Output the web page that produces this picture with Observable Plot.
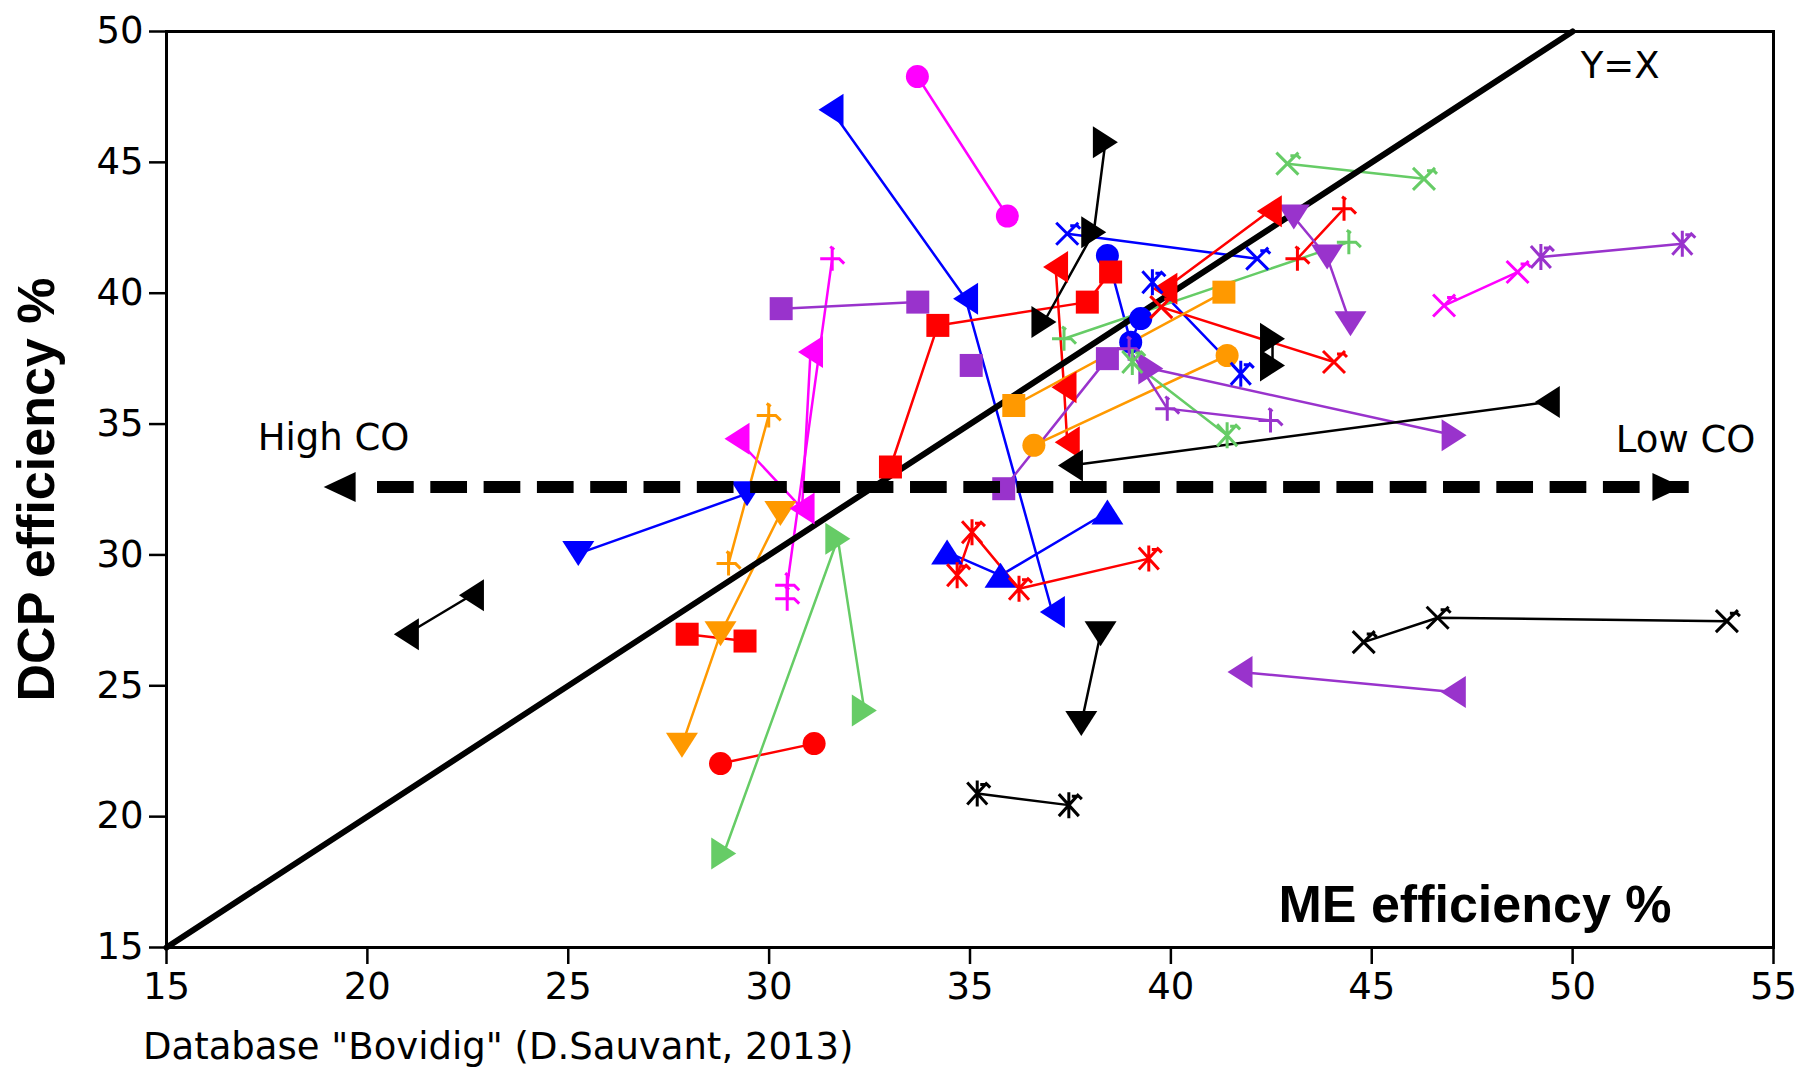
<!DOCTYPE html>
<html>
<head>
<meta charset="utf-8">
<script src="https://cdn.jsdelivr.net/npm/d3@7"></script>
<script src="https://cdn.jsdelivr.net/npm/@observablehq/plot@0.6"></script>
<style>
  html, body { margin: 0; padding: 0; background: #fff; }
  #chart svg { display: block; }
  #caption { font-family: "DejaVu Sans", sans-serif; font-size: 37px; line-height: 43px; margin-left: 143px; color: #000; white-space: nowrap; }
</style>
</head>
<body>
<div id="chart"></div>
<div id="caption"></div>
<script>
// ---- axis ticks ----
const xTicks = [15, 20, 25, 30, 35, 40, 45, 50, 55];
const yTicks = [15, 20, 25, 30, 35, 40, 45, 50];

// ---- texts ----
const yLabel = "DCP efficiency %";
const xLabel = "ME efficiency %";
const captionText = 'Database "Bovidig" (D.Sauvant, 2013)';
const diagonalLabel = "Y=X";
const highLabel = "High CO";
const lowLabel = "Low CO";

// ---- reference lines ----
const diagonal = [15, 50];            // Y = X from 15 to 50
const coLine = [20.24, 52.89];        // dashed CO arrow, x extent
const coY = 32.6;                     // dashed CO arrow, y level
const coHeads = [19.31, 52.36];       // arrow heads (left, right)

// ---- series (x = ME efficiency %, y = DCP efficiency %) ----
// blue
const blueLeftTri  = [[31.54, 47.01], [34.89, 39.79], [37.05, 27.82]];
const blueUpTri    = [[34.43, 30.11], [35.76, 29.22], [38.42, 31.64]];
const blueDownTri  = [[25.25, 30.05], [29.45, 32.34]];
const blueCircle   = [[38.42, 41.44], [39.00, 38.13], [39.25, 39.03]];
const blueTimes    = [[37.42, 42.27], [42.15, 41.32]];
const blueAsterisk = [[39.54, 40.42], [41.74, 36.92]];
// magenta
const magentaCircle  = [[33.69, 48.28], [35.93, 42.95]];
const magentaLeftTri = [[29.20, 34.44], [30.82, 31.77], [31.03, 37.75]];
const magentaPlus    = [[31.57, 41.32], [30.45, 28.84], [30.45, 28.33]];
const magentaTimes   = [[46.80, 39.53], [48.63, 40.81]];
// red
const redSquareA   = [[27.96, 26.97], [29.40, 26.71]];
const redSquareB   = [[33.02, 33.36], [34.20, 38.77], [37.92, 39.66], [38.50, 40.81]];
const redLeftTriA  = [[37.13, 41.00], [37.34, 36.41], [37.42, 34.31]];
const redLeftTriB  = [[39.85, 40.17], [42.45, 43.13]];
const redPlus      = [[43.15, 41.32], [44.31, 43.23]];
const redTimes     = [[39.76, 39.47], [44.06, 37.37]];
const redAsterisk  = [[34.68, 29.22], [35.05, 30.87], [36.22, 28.71], [39.45, 29.86]];
const redCircle    = [[28.79, 22.03], [31.12, 22.79]];
// orange
const orangeSquare  = [[36.09, 35.71], [41.32, 40.04]];
const orangeCircle  = [[36.59, 34.19], [41.40, 37.62]];
const orangePlus    = [[29.99, 35.33], [28.99, 29.67]];
const orangeDownTri = [[30.28, 31.58], [28.79, 26.99], [27.83, 22.73]];
// green
const greenTimes    = [[42.90, 44.95], [46.30, 44.37]];
const greenPlus     = [[37.34, 38.26], [44.43, 41.95]];
const greenAsterisk = [[39.04, 37.37], [41.40, 34.57]];
const greenRightTri = [[28.87, 18.59], [31.71, 30.62], [32.37, 24.06]];
// purple
const purpleSquareA  = [[30.30, 39.41], [33.70, 39.66]];
const purpleSquareB  = [[35.03, 37.24]];
const purpleSquareC  = [[35.84, 32.53], [38.42, 37.50]];
const purplePlus     = [[38.96, 37.88], [39.91, 35.59], [42.48, 35.14]];
const purpleRightTri = [[39.50, 37.12], [47.05, 34.57]];
const purpleDownTri  = [[43.06, 42.91], [43.89, 41.38], [44.47, 38.83]];
const purpleAsterisk = [[49.21, 41.38], [52.73, 41.89]];
const purpleLeftTri  = [[41.72, 25.53], [47.03, 24.76]];
// black
const blackRightTriA = [[38.37, 45.77], [38.08, 42.33], [36.84, 38.90]];
const blackRightTriB = [[42.53, 38.26], [42.53, 37.24]];
const blackLeftTriA  = [[49.37, 35.84], [37.50, 33.42]];
const blackLeftTriB  = [[20.97, 26.97], [22.59, 28.46]];
const blackDownTri   = [[38.25, 26.99], [37.77, 23.56]];
const blackAsterisk  = [[35.18, 20.88], [37.46, 20.44]];
const blackTimes     = [[44.80, 26.67], [46.64, 27.60], [53.84, 27.47]];

// ---- styles ----
const C = {blue: "#0000ff", magenta: "#ff00ff", red: "#ff0000", orange: "#ff9900",
           green: "#66cc66", purple: "#9933cc", black: "#000000"};

const series = [
  [blueLeftTri, C.blue, "left"], [blueUpTri, C.blue, "up"], [blueDownTri, C.blue, "down"],
  [blueCircle, C.blue, "circle"], [blueTimes, C.blue, "times"], [blueAsterisk, C.blue, "asterisk"],
  [magentaCircle, C.magenta, "circle"], [magentaLeftTri, C.magenta, "left"],
  [magentaPlus, C.magenta, "plus"], [magentaTimes, C.magenta, "times"],
  [redSquareA, C.red, "square"], [redSquareB, C.red, "square"], [redLeftTriA, C.red, "left"],
  [redLeftTriB, C.red, "left"], [redPlus, C.red, "plus"], [redTimes, C.red, "times"],
  [redAsterisk, C.red, "asterisk"], [redCircle, C.red, "circle"],
  [orangeSquare, C.orange, "square"], [orangeCircle, C.orange, "circle"],
  [orangePlus, C.orange, "plus"], [orangeDownTri, C.orange, "down"],
  [greenTimes, C.green, "times"], [greenPlus, C.green, "plus"],
  [greenAsterisk, C.green, "asterisk"], [greenRightTri, C.green, "right"],
  [purpleSquareA, C.purple, "square"], [purpleSquareB, C.purple, "square"],
  [purpleSquareC, C.purple, "square"], [purplePlus, C.purple, "plus"],
  [purpleRightTri, C.purple, "right"], [purpleDownTri, C.purple, "down"],
  [purpleAsterisk, C.purple, "asterisk"], [purpleLeftTri, C.purple, "left"],
  [blackRightTriA, C.black, "right"], [blackRightTriB, C.black, "right"],
  [blackLeftTriA, C.black, "left"], [blackLeftTriB, C.black, "left"],
  [blackDownTri, C.black, "down"], [blackAsterisk, C.black, "asterisk"],
  [blackTimes, C.black, "times"]
];

const rows = series.flatMap(([pts, color, marker], id) =>
  pts.map(([x, y]) => ({x, y, id, color, marker})));

// ---- custom marker symbols (pixel sizes) ----
const tri = (dir, d, b) => ({draw(c) {
  const h = d / 2, w = b / 2;
  if (dir === "up")    { c.moveTo(0, -h); c.lineTo(w, h);  c.lineTo(-w, h); }
  if (dir === "down")  { c.moveTo(0, h);  c.lineTo(w, -h); c.lineTo(-w, -h); }
  if (dir === "left")  { c.moveTo(-h, 0); c.lineTo(h, -w); c.lineTo(h, w); }
  if (dir === "right") { c.moveTo(h, 0);  c.lineTo(-h, -w); c.lineTo(-h, w); }
  c.closePath();
}});
const SYM = {
  circle: {draw(c) { c.moveTo(11.5, 0); c.arc(0, 0, 11.5, 0, 2 * Math.PI); c.closePath(); }},
  square: {draw(c) { c.rect(-11.5, -11.5, 23, 23); }},
  up: tri("up", 25, 32), down: tri("down", 25, 32), left: tri("left", 25, 32), right: tri("right", 25, 32),
  times: {draw(c) {
    c.moveTo(-11, -11); c.lineTo(11, 11); c.moveTo(-11, 11); c.lineTo(11, -11);
    c.moveTo(3, -8); c.lineTo(10, -8); c.lineTo(13, -5);
  }},
  plus: {draw(c) {
    c.moveTo(-12, 0); c.lineTo(7, 0); c.lineTo(12, 5);
    c.moveTo(0, -12); c.lineTo(0, 12); c.moveTo(-2, -12); c.lineTo(2, -9);
  }},
  asterisk: {draw(c) {
    c.moveTo(-10, -11); c.lineTo(10, 11); c.moveTo(-10, 11); c.lineTo(10, -11);
    c.moveTo(0, -13); c.lineTo(0, 13);
    c.moveTo(3, -9); c.lineTo(10, -9); c.lineTo(13, -6);
  }}
};
const filled = new Set(["circle", "square", "up", "down", "left", "right"]);
const headL = tri("left", 32, 30), headR = tri("right", 30, 28);

const markerMarks = Object.keys(SYM).map(k => Plot.dot(rows.filter(d => d.marker === k), {
  x: "x", y: "y", symbol: SYM[k],
  fill: filled.has(k) ? "color" : "none",
  stroke: filled.has(k) ? "none" : "color",
  strokeWidth: 3
}));

const chart = Plot.plot({
  width: 1798,
  height: 1025,
  marginLeft: 166,
  marginRight: 25,
  marginTop: 31,
  marginBottom: 78,
  style: {fontFamily: "DejaVu Sans, sans-serif", fontSize: "37px", color: "#000", background: "#fff", overflow: "visible"},
  x: {domain: [15, 55]},
  y: {domain: [15, 50]},
  color: {type: "identity"},
  marks: [
    Plot.axisX({ticks: xTicks, tickSize: 17, tickPadding: 8, strokeWidth: 2.5, label: null}),
    Plot.axisY({ticks: yTicks, tickSize: 17, tickPadding: 6, strokeWidth: 2.5, label: null}),
    Plot.line(rows, {x: "x", y: "y", z: "id", stroke: "color", strokeWidth: 2.5}),
    Plot.line(diagonal, {x: d => d, y: d => d, stroke: "#000", strokeWidth: 6}),
    ...markerMarks,
    Plot.line(coLine, {x: d => d, y: () => coY, stroke: "#000", strokeWidth: 12,
      strokeDasharray: "36.7,16.6", strokeLinecap: "butt"}),
    Plot.dot([coHeads[0]], {x: d => d, y: () => coY, symbol: headL, fill: "#000", stroke: "none"}),
    Plot.dot([coHeads[1]], {x: d => d, y: () => coY, symbol: headR, fill: "#000", stroke: "none"}),
    Plot.frame({stroke: "#000", strokeWidth: 3}),
    Plot.text([diagonal[1]], {x: d => d, y: d => d, text: () => diagonalLabel,
      textAnchor: "start", dx: 8, dy: 35, fontSize: 37}),
    Plot.text([coHeads[0]], {x: d => d, y: () => coY, text: () => highLabel,
      textAnchor: "start", dx: -82, dy: -49, fontSize: 37}),
    Plot.text([coHeads[1]], {x: d => d, y: () => coY, text: () => lowLabel,
      textAnchor: "end", dx: 88, dy: -47, fontSize: 37}),
    Plot.text([xLabel], {frameAnchor: "bottom-right", text: d => d, textAnchor: "end",
      dx: -102, dy: -26, fontSize: 52, fontWeight: "bold", fontFamily: "Liberation Sans, Arial, sans-serif"}),
    Plot.text([yLabel], {frameAnchor: "left", text: d => d, rotate: -90, textAnchor: "middle",
      dx: -129, fontSize: 52, fontWeight: "bold", fontFamily: "Liberation Sans, Arial, sans-serif"})
  ]
});
document.getElementById("chart").appendChild(chart);
document.getElementById("caption").textContent = captionText;
</script>
</body>
</html>
